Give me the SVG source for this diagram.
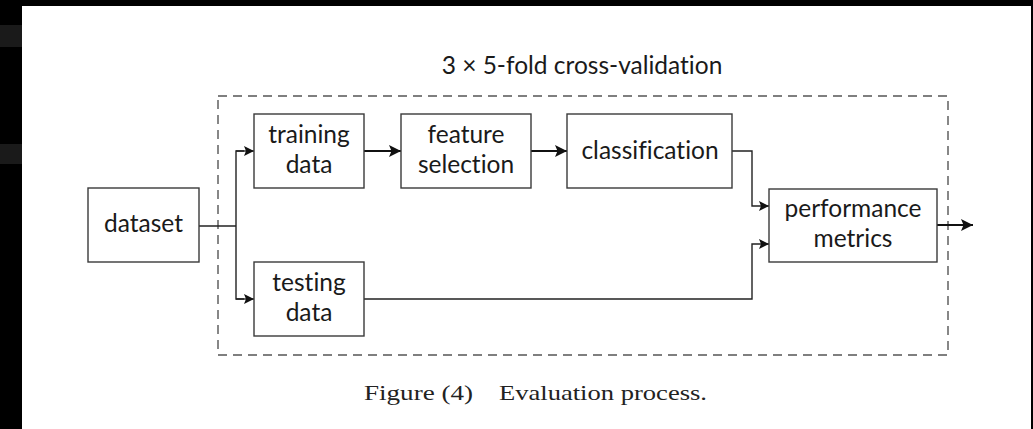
<svg xmlns="http://www.w3.org/2000/svg" width="1033" height="429" viewBox="0 0 1033 429">
  <defs>
    <marker id="arrow" viewBox="0 0 10 10" refX="10" refY="5" markerWidth="10" markerHeight="10" markerUnits="userSpaceOnUse" orient="auto">
      <path d="M0,0 L10,5 L0,10 L2,5 Z" fill="#111"/>
    </marker>
    <marker id="arrowBig" viewBox="0 0 12 12" refX="12" refY="6" markerWidth="12" markerHeight="12" markerUnits="userSpaceOnUse" orient="auto">
      <path d="M0,0 L12,6 L0,12 L2.5,6 Z" fill="#111"/>
    </marker>
  </defs>
  <style>
    .box { fill: #fff; stroke: #3a3a3a; stroke-width: 1.4; }
    .lbl { font-family: Lato, "Liberation Sans", sans-serif; font-size: 24.5px; fill: #1a1a1a; text-anchor: middle; font-variant-ligatures: none; font-feature-settings: "liga" 0, "dlig" 0; }
    .wire { fill: none; stroke: #222; stroke-width: 1.4; }
    .thick { fill: none; stroke: #111; stroke-width: 2.2; }
    .frame { fill: none; stroke: #555; stroke-width: 1.4; stroke-dasharray: 9 6; }
    .caption { font-family: "Liberation Serif", serif; font-size: 22px; fill: #222; }
  </style>

  <!-- page background with dark edges -->
  <rect x="0" y="0" width="1033" height="429" fill="#000"/>
  <rect x="22" y="6" width="1009" height="423" fill="#fff"/>
  <rect x="0" y="25" width="22" height="22" fill="#1a1a1a"/>
  <rect x="0" y="144" width="22" height="20" fill="#1a1a1a"/>

  <!-- cross-validation frame -->
  <g id="cv-frame">
    <rect class="frame" x="218" y="96" width="730" height="259"/>
    <text class="lbl" x="582" y="74">3 × 5-fold cross-validation</text>
  </g>

  <!-- connectors -->
  <g id="connectors">
    <polyline class="wire" points="199,226 236,226"/>
    <polyline class="wire" points="244,151 236,151 236,299 244,299"/>
    <path class="wire" d="M236,151 L254,151" marker-end="url(#arrow)"/>
    <path class="wire" d="M236,299 L254,299" marker-end="url(#arrow)"/>
    <path class="thick" d="M364,151 L401,151" marker-end="url(#arrowBig)"/>
    <path class="thick" d="M531,151 L567,151" marker-end="url(#arrowBig)"/>
    <path class="wire" d="M732,151 L752,151 L752,206 L769,206" marker-end="url(#arrow)"/>
    <path class="wire" d="M364,299 L752,299 L752,244 L769,244" marker-end="url(#arrow)"/>
    <path class="thick" d="M937,225 L973,225" marker-end="url(#arrowBig)"/>
  </g>

  <g id="dataset">
    <rect class="box" x="88" y="188" width="111" height="74"/>
    <text class="lbl" x="143.5" y="232">dataset</text>
  </g>

  <g id="training-data">
    <rect class="box" x="254" y="114" width="110" height="74"/>
    <text class="lbl" x="309" y="143">training</text>
    <text class="lbl" x="309" y="173">data</text>
  </g>

  <g id="feature-selection">
    <rect class="box" x="401" y="114" width="130" height="74"/>
    <text class="lbl" x="466" y="143">feature</text>
    <text class="lbl" x="466" y="173">selection</text>
  </g>

  <g id="classification">
    <rect class="box" x="567" y="114" width="165" height="74"/>
    <text class="lbl" x="650" y="159">classification</text>
  </g>

  <g id="testing-data">
    <rect class="box" x="254" y="262" width="110" height="74"/>
    <text class="lbl" x="309" y="291">testing</text>
    <text class="lbl" x="309" y="321">data</text>
  </g>

  <g id="performance-metrics">
    <rect class="box" x="769" y="189" width="168" height="73"/>
    <text class="lbl" x="853" y="217">performance</text>
    <text class="lbl" x="853" y="247">metrics</text>
  </g>

  <!-- caption -->
  <text class="caption" x="364" y="400" textLength="109" lengthAdjust="spacingAndGlyphs">Figure (4)</text>
  <text class="caption" x="499" y="400" textLength="208" lengthAdjust="spacingAndGlyphs">Evaluation process.</text>
</svg>
